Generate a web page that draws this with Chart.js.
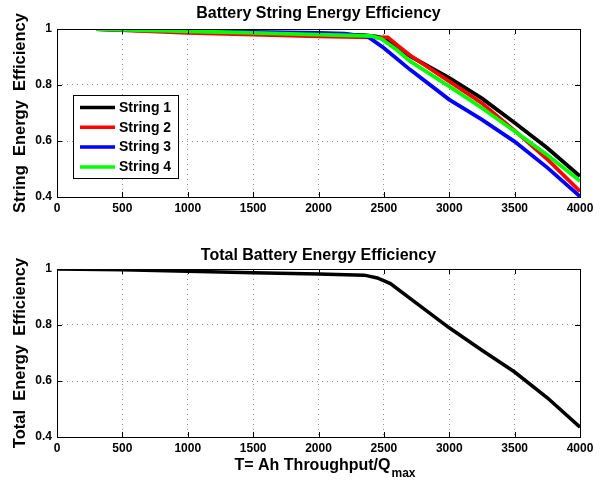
<!DOCTYPE html>
<html>
<head>
<meta charset="utf-8">
<script src="https://cdn.jsdelivr.net/npm/chart.js@4/dist/chart.umd.min.js"></script>
<style>
  html, body { margin: 0; padding: 0; background: #fff; }
  #wrap { position: relative; width: 605px; height: 482px; }
  canvas { position: absolute; left: 0; }
</style>
</head>
<body>
<div id="wrap">
  <canvas id="strings" width="605" height="241" style="top:0"></canvas>
  <canvas id="total" width="605" height="241" style="top:241px"></canvas>
</div>
<script>
// T = Ah throughput / Qmax
const string1T = [300, 1000, 1500, 2000, 2350, 2450, 2500, 2600, 2700, 3000, 3250, 3500, 3750, 4000]
const string1E = [1.0, 0.990, 0.986, 0.982, 0.978, 0.973, 0.966, 0.935, 0.903, 0.825, 0.752, 0.665, 0.575, 0.474]

const string2T = [300, 1000, 1500, 2000, 2400, 2530, 2600, 2700, 3000, 3250, 3500, 3750, 4000]
const string2E = [1.0, 0.986, 0.980, 0.974, 0.970, 0.970, 0.943, 0.906, 0.813, 0.735, 0.637, 0.535, 0.420]

const string3T = [300, 1000, 1500, 2000, 2200, 2380, 2500, 2700, 3000, 3250, 3500, 3750, 4000]
const string3E = [1.0, 0.993, 0.990, 0.986, 0.983, 0.972, 0.932, 0.855, 0.748, 0.676, 0.598, 0.505, 0.402]

const string4T = [300, 1000, 1500, 2000, 2400, 2480, 2600, 2700, 3000, 3250, 3500, 3750, 4000]
const string4E = [1.0, 0.992, 0.986, 0.980, 0.975, 0.965, 0.925, 0.885, 0.795, 0.718, 0.635, 0.550, 0.457]

const totalT = [0, 500, 1000, 1500, 2000, 2350, 2450, 2550, 2700, 3000, 3250, 3500, 3750, 4000]
const totalE = [1.0, 0.997, 0.992, 0.987, 0.982, 0.978, 0.968, 0.948, 0.895, 0.790, 0.710, 0.632, 0.540, 0.435]

const stringNames = ['String 1', 'String 2', 'String 3', 'String 4']
const xTicks = [0, 500, 1000, 1500, 2000, 2500, 3000, 3500, 4000]
const yTicks = [0.4, 0.6, 0.8, 1]

const FONT = '"Liberation Sans", Arial, Helvetica, sans-serif'

const pts = (xs, ys) => xs.map((x, i) => ({ x, y: ys[i] }))

// black box round the axes + matlab style inward ticks
const framePlugin = {
  id: 'frame',
  afterDraw (chart) {
    const { ctx, chartArea: a, scales: { x, y } } = chart
    ctx.save()
    ctx.strokeStyle = '#000'
    ctx.lineWidth = 1
    ctx.strokeRect(a.left + 0.5, a.top + 0.5, a.right - a.left, a.bottom - a.top)
    ctx.beginPath()
    x.ticks.forEach(t => {
      const px = Math.round(x.getPixelForValue(t.value)) + 0.5
      ctx.moveTo(px, a.top); ctx.lineTo(px, a.top + 5)
      ctx.moveTo(px, a.bottom); ctx.lineTo(px, a.bottom - 5)
    })
    y.ticks.forEach(t => {
      const py = Math.round(y.getPixelForValue(t.value)) + 0.5
      ctx.moveTo(a.left, py); ctx.lineTo(a.left + 5, py)
      ctx.moveTo(a.right, py); ctx.lineTo(a.right - 5, py)
    })
    ctx.stroke()
    ctx.restore()
  }
}

// panel title, optional x label with subscript, optional boxed legend
const captionPlugin = {
  id: 'caption',
  afterDraw (chart, args, opts) {
    const { ctx, chartArea: a } = chart
    const mid = (a.left + a.right) / 2
    ctx.save()
    ctx.fillStyle = '#000'
    ctx.font = 'bold 16px ' + FONT
    ctx.textAlign = 'center'
    ctx.textBaseline = 'alphabetic'
    ctx.fillText(opts.title, mid, a.top - opts.titleGap)

    if (opts.xLabel) {
      ctx.textAlign = 'left'
      ctx.font = 'bold 16px ' + FONT
      const w1 = ctx.measureText(opts.xLabel).width
      ctx.font = 'bold 12px ' + FONT
      const w2 = ctx.measureText(opts.xSub).width
      const x0 = mid - (w1 + w2) / 2 + 6
      const base = a.bottom + 33
      ctx.font = 'bold 16px ' + FONT
      ctx.fillText(opts.xLabel, x0, base)
      ctx.font = 'bold 12px ' + FONT
      ctx.fillText(opts.xSub, x0 + w1 + 1, base + 7)
    }

    if (opts.legend) {
      const bx = a.left + 16, by = a.top + 66
      ctx.fillStyle = '#fff'
      ctx.fillRect(bx, by, 105, 83)
      ctx.strokeStyle = '#000'
      ctx.lineWidth = 1
      ctx.strokeRect(bx + 0.5, by + 0.5, 105, 83)
      ctx.font = 'bold 14px ' + FONT
      ctx.textAlign = 'left'
      ctx.textBaseline = 'middle'
      chart.data.datasets.forEach((ds, i) => {
        const ry = by + 12.5 + i * 19.8
        ctx.strokeStyle = ds.borderColor
        ctx.lineWidth = 3.5
        ctx.beginPath()
        ctx.moveTo(a.left + 23, ry)
        ctx.lineTo(a.left + 58, ry)
        ctx.stroke()
        ctx.fillStyle = '#000'
        ctx.fillText(ds.label, a.left + 62, ry + 0.5)
      })
    }
    ctx.restore()
  }
}

function axesOptions (yTitle, pad, xHeight, caption) {
  return {
    responsive: false,
    animation: false,
    layout: { padding: pad },
    plugins: {
      legend: { display: false },
      tooltip: { enabled: false },
      caption
    },
    elements: { point: { radius: 0 }, line: { tension: 0 } },
    scales: {
      x: {
        type: 'linear',
        min: 0,
        max: 4000,
        afterBuildTicks: s => { s.ticks = xTicks.map(v => ({ value: v })) },
        afterFit: s => { s.height = xHeight },
        grid: { color: '#8a8a8a', lineWidth: 1, drawTicks: false },
        border: { display: false, dash: [1, 4] },
        ticks: {
          color: '#000',
          padding: 4,
          maxRotation: 0,
          font: { family: FONT, size: 12, weight: 'bold' },
          callback: v => String(v)
        }
      },
      y: {
        type: 'linear',
        min: 0.4,
        max: 1,
        afterBuildTicks: s => { s.ticks = yTicks.map(v => ({ value: v })) },
        afterFit: s => { s.width = 57 },
        grid: { color: '#8a8a8a', lineWidth: 1, drawTicks: false },
        border: { display: false, dash: [1, 4] },
        ticks: {
          color: '#000',
          padding: 5,
          font: { family: FONT, size: 12, weight: 'bold' },
          callback: v => String(Number(v.toFixed(1)))
        },
        title: {
          display: true,
          text: yTitle,
          color: '#000',
          padding: { top: 11, bottom: 0 },
          font: { family: FONT, size: 16.5, weight: 'bold' }
        }
      }
    }
  }
}

new Chart(document.getElementById('strings'), {
  type: 'line',
  data: {
    datasets: [
      { label: stringNames[0], data: pts(string1T, string1E), borderColor: '#000000', borderWidth: 3.8, order: 3 },
      { label: stringNames[1], data: pts(string2T, string2E), borderColor: '#ff0000', borderWidth: 3.8, order: 2 },
      { label: stringNames[2], data: pts(string3T, string3E), borderColor: '#0000ff', borderWidth: 3.8, order: 1 },
      { label: stringNames[3], data: pts(string4T, string4E), borderColor: '#00ff00', borderWidth: 3.8, order: 0 }
    ]
  },
  options: axesOptions('String  Energy  Efficiency', { top: 29, left: 0, right: 25, bottom: 0 }, 44,
    { title: 'Battery String Energy Efficiency', titleGap: 11, legend: true }),
  plugins: [framePlugin, captionPlugin]
})

new Chart(document.getElementById('total'), {
  type: 'line',
  data: {
    datasets: [
      { label: 'Total', data: pts(totalT, totalE), borderColor: '#000000', borderWidth: 3.5 }
    ]
  },
  options: axesOptions('Total  Energy  Efficiency', { top: 28, left: 0, right: 25, bottom: 0 }, 45,
    { title: 'Total Battery Energy Efficiency', titleGap: 9, xLabel: 'T= Ah Throughput/Q', xSub: 'max' }),
  plugins: [framePlugin, captionPlugin]
})
</script>
</body>
</html>
